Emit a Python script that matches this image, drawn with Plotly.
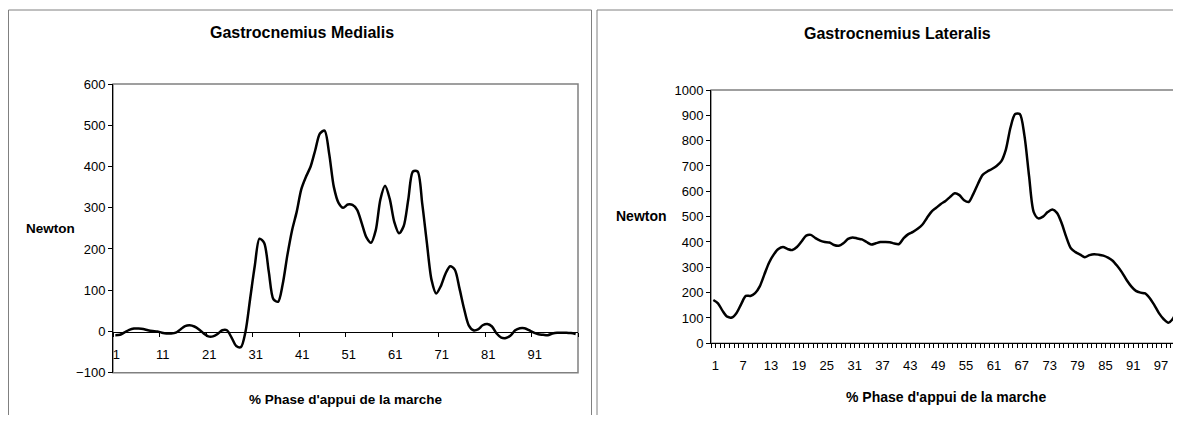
import plotly.graph_objects as go

# page body has an 8px margin: figure is sized to reach the window's right/bottom edges
OFF = 8
W, H = 1181 - OFF, 423 - 2 * OFF

# ---------------- data ----------------
medialis_phase = list(range(1, 101))
medialis_newton = [
    -9, -8, -2, 4, 7, 7, 6, 3, 1, 0,
    -3, -5, -5, -3, 5, 13, 15, 12, 5, -5,
    -12, -12, -6, 3, 3, -15, -35, -38, 0, 80,
    160, 225, 215, 145, 78, 72, 115, 185, 245, 290,
    345, 375, 400, 440, 480, 487, 430, 350, 312, 300,
    308, 307, 295, 262, 228, 215, 245, 320, 353, 322,
    265, 238, 255, 320, 388, 388, 310, 215, 125, 92,
    110, 140, 158, 150, 105, 55, 15, 3, 5, 15,
    18, 12, -5, -15, -16, -10, 3, 8, 8, 3,
    -3, -7, -8, -9, -5, -3, -3, -3, -4, -6,
]
medialis_ticks = [1, 11, 21, 31, 41, 51, 61, 71, 81, 91]

lateralis_phase = list(range(1, 102))
lateralis_newton = [
    171, 158, 128, 105, 102, 120, 155, 187, 187, 198,
    225, 272, 318, 350, 372, 380, 372, 368, 380, 402,
    425, 428, 415, 405, 400, 398, 388, 385, 395, 412,
    418, 414, 410, 400, 390, 395, 400, 400, 399, 394,
    392, 415, 431, 440, 452, 468, 495, 520, 535, 550,
    562, 578, 592, 585, 565, 558, 590, 630, 665, 678,
    688, 700, 718, 765, 852, 905, 905, 820, 660, 518,
    493, 500, 518, 528, 515, 475, 420, 375, 360, 350,
    340, 348, 352, 350, 346, 338, 326, 305, 280, 250,
    225, 207, 200, 197, 178, 150, 118, 95, 81, 98,
    138,
]
lateralis_ticks = [1, 7, 13, 19, 25, 31, 37, 43, 49, 55, 61, 67, 73, 79, 85, 91, 97]

title_left = "Gastrocnemius Medialis"
title_right = "Gastrocnemius Lateralis"
y_title = "Newton"
x_title = "% Phase d'appui de la marche"

# ---------------- helpers (window pixel -> paper fraction) ----------------
def fx(p):
    return (p - OFF) / W

def fy(p):
    return 1 - (p - OFF) / H

FONT = "Liberation Sans, Arial, sans-serif"
GRAY = "#808080"

fig = go.Figure()

fig.add_trace(go.Scatter(
    x=medialis_phase, y=medialis_newton, mode="lines",
    line=dict(color="black", width=2.5, shape="spline", smoothing=0.8),
    xaxis="x", yaxis="y", showlegend=False, hoverinfo="skip"))

fig.add_trace(go.Scatter(
    x=lateralis_phase, y=lateralis_newton, mode="lines",
    line=dict(color="black", width=2.5, shape="spline", smoothing=0.8),
    xaxis="x2", yaxis="y2", showlegend=False, hoverinfo="skip"))

tickfont = dict(family=FONT, size=13, color="black")

fig.update_layout(
    width=W, height=H, autosize=False,
    margin=dict(l=0, r=0, t=0, b=0, pad=0),
    paper_bgcolor="white", plot_bgcolor="white",
    font=dict(family=FONT, color="black"),
    xaxis=dict(
        domain=[fx(113), fx(578)], range=[0.5, 100.5],
        anchor="free", position=fy(331.5), automargin=False,
        showline=True, linecolor="black", linewidth=1,
        showgrid=False, zeroline=False,
        tickmode="array", tickvals=medialis_ticks,
        ticktext=[str(v) for v in medialis_ticks],
        ticks="", ticklabelstandoff=11, ticklabelshift=1, tickfont=tickfont,
        minor=dict(tickmode="array",
                   tickvals=[v - 0.5 for v in medialis_ticks] + [100.5],
                   ticks="outside", ticklen=4, tickcolor="black", showgrid=False),
        fixedrange=True,
    ),
    yaxis=dict(
        domain=[fy(372.7), fy(84)], range=[-100, 600],
        anchor="x", automargin=False,
        showline=True, linecolor="black", linewidth=1,
        showgrid=False, zeroline=False,
        tickmode="linear", tick0=0, dtick=100,
        ticks="outside", ticklen=4, tickcolor="black",
        tickfont=tickfont, fixedrange=True,
    ),
    xaxis2=dict(
        domain=[fx(711), fx(1180)], range=[0.5, 101.5],
        anchor="y2", automargin=False,
        showline=True, linecolor="black", linewidth=1,
        showgrid=False, zeroline=False,
        tickmode="array", tickvals=lateralis_ticks,
        ticktext=[str(v) for v in lateralis_ticks],
        ticks="", ticklabelstandoff=10, ticklabelshift=2, tickfont=tickfont,
        minor=dict(tickmode="linear", tick0=0.5, dtick=1,
                   ticks="outside", ticklen=4, tickcolor="black", showgrid=False),
        fixedrange=True,
    ),
    yaxis2=dict(
        domain=[fy(343.3), fy(90)], range=[0, 1000],
        anchor="x2", automargin=False,
        showline=True, linecolor="black", linewidth=1,
        showgrid=False, zeroline=False,
        tickmode="linear", tick0=0, dtick=100,
        ticks="outside", ticklen=4, tickcolor="black",
        tickfont=tickfont, fixedrange=True,
    ),
)

def pline(x0, y0, x1, y1, width=1):
    return dict(type="line", xref="paper", yref="paper",
                x0=fx(x0), y0=fy(y0), x1=fx(x1), y1=fy(y1),
                line=dict(color=GRAY, width=width), layer="below")

shapes = [
    # left panel border (box running off the bottom)
    dict(type="rect", xref="paper", yref="paper",
         x0=fx(8.5), x1=fx(591.5), y0=fy(440), y1=fy(10),
         line=dict(color=GRAY, width=1), fillcolor="rgba(0,0,0,0)", layer="below"),
    # right panel border: only top and left edges are visible
    pline(597, 10, 1190, 10),
    pline(597, 10, 597, 440),
    # plot area borders
    dict(type="rect", xref="x domain", yref="y domain", x0=0, x1=1, y0=0, y1=1,
         line=dict(color=GRAY, width=1.5), fillcolor="rgba(0,0,0,0)", layer="below"),
    dict(type="rect", xref="x2 domain", yref="y2 domain", x0=0, x1=1, y0=0, y1=1,
         line=dict(color=GRAY, width=1.5), fillcolor="rgba(0,0,0,0)", layer="below"),
]

ann = [
    (title_left, 302, 32, 16),
    (title_right, 897, 34, 16),
    (y_title, 50, 228, 13.5),
    (y_title, 641, 216, 14),
    (x_title, 346, 399, 13.5),
    (x_title, 946, 397, 14),
]
annotations = []
for text, x, y, size in ann:
    annotations.append(dict(
        text="<b>%s</b>" % text, x=fx(x), y=fy(y),
        xref="paper", yref="paper", xanchor="center", yanchor="middle",
        showarrow=False, font=dict(family=FONT, size=size, color="black")))

fig.update_layout(shapes=shapes, annotations=annotations)

fig.write_html("out.html")
